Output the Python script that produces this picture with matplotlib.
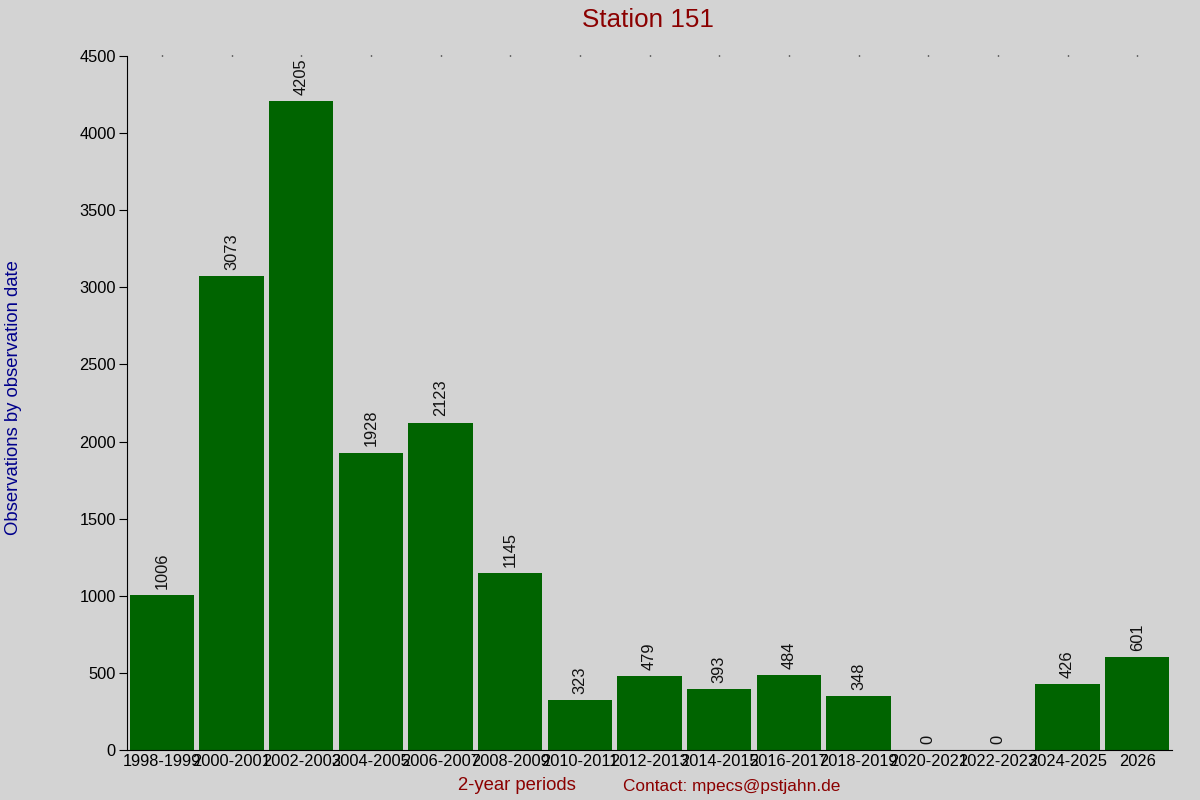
import matplotlib
matplotlib.use('Agg')
import matplotlib.pyplot as plt

plt.rcParams['font.family'] = ['Liberation Sans', 'DejaVu Sans']

periods = ['1998-1999', '2000-2001', '2002-2003', '2004-2005', '2006-2007',
           '2008-2009', '2010-2011', '2012-2013', '2014-2015', '2016-2017',
           '2018-2019', '2020-2021', '2022-2023', '2024-2025', '2026']
counts = [1006, 3073, 4205, 1928, 2123, 1145, 323, 479, 393, 484, 348, 0, 0, 426, 601]

bg = '#d3d3d3'
fig = plt.figure(figsize=(12, 8), dpi=100, facecolor=bg)
ax = fig.add_axes([127 / 1200, 50 / 800, 1045 / 1200, 694 / 800])
ax.set_facecolor(bg)

x = list(range(len(periods)))
ax.bar(x, counts, width=0.92, color='#006400')
for xi, v in zip(x, counts):
    ax.text(xi, v + 40, str(v), rotation=90, ha='center', va='bottom',
            fontsize=11.8, color='#111111')

ax.set_xlim(-0.5, 14.5)
ax.set_ylim(0, 4500)
ax.set_yticks(range(0, 4501, 500))
ax.set_xticks(x)
ax.set_xticklabels(periods, fontsize=11.8)
ax.tick_params(axis='y', labelsize=11.8, length=6, direction='out', pad=2)
ax.tick_params(axis='x', length=0, pad=3)

for s in ['top', 'right']:
    ax.spines[s].set_visible(False)

# tiny dots along the top edge
ax2 = ax.secondary_xaxis('top')
ax2.set_xticks(x)
ax2.set_xticklabels([])
ax2.tick_params(length=1, width=1)
ax2.spines['top'].set_visible(False)

fig.text(0.54, 0.99, 'Station 151', ha='center', va='top', fontsize=18.7, color='#8b0000')
fig.text(0.011, 0.503, 'Observations by observation date', rotation=90, ha='center',
         va='center', fontsize=13.3, color='#00008b')
fig.text(517 / 1200, 1 - 786 / 800, '2-year periods', ha='center', va='center',
         fontsize=13.3, color='#8b0000')
fig.text(732 / 1200, 1 - 786 / 800, 'Contact: mpecs@pstjahn.de', ha='center', va='center',
         fontsize=12.4, color='#8b0000')

fig.savefig('out.png', dpi=100, facecolor=bg)
